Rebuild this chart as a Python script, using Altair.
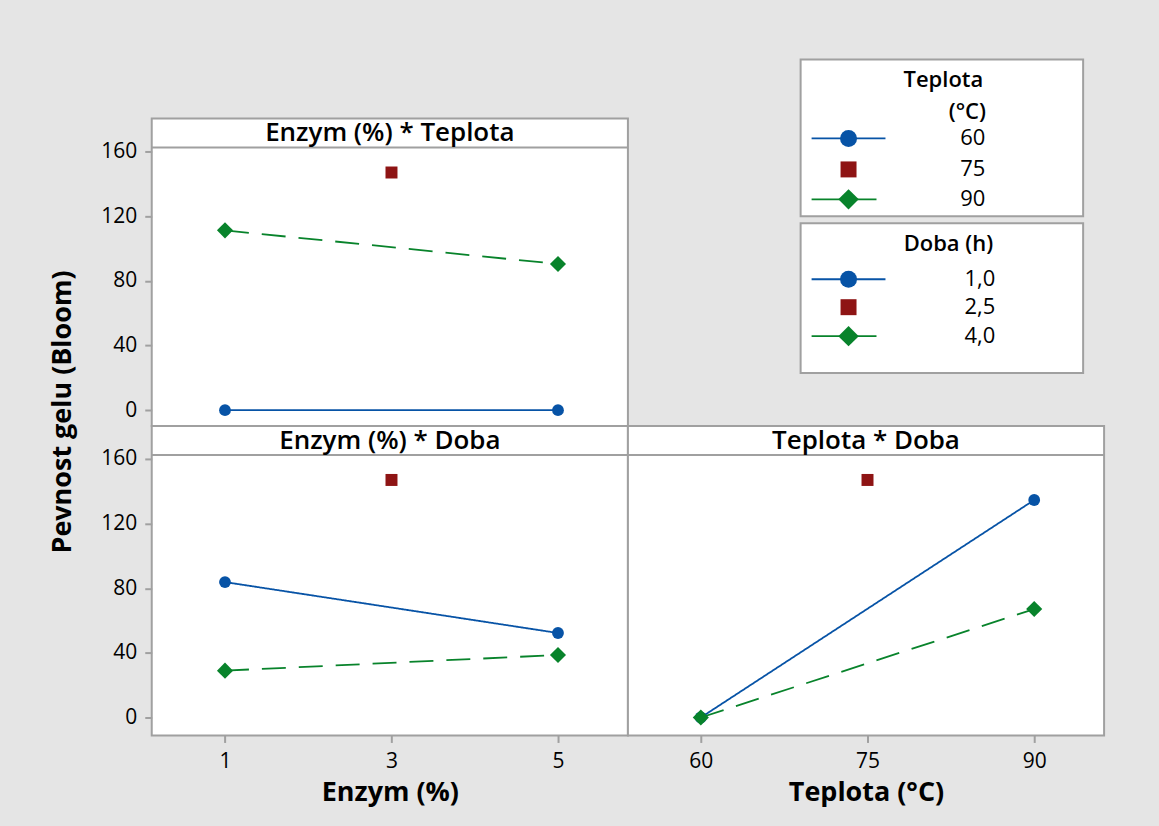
import altair as alt
import pandas as pd

# ---------------- data ----------------
enzym_levels = [1, 3, 5]
teplota_levels = [60, 75, 90]
teplota_labels = ["60", "75", "90"]
doba_labels = ["1,0", "2,5", "4,0"]

# Enzym (%) * Teplota  (series = Teplota)
et_60 = [0.0, 0.0]        # at Enzym 1, 5
et_75 = [147.0]           # at Enzym 3
et_90 = [111.2, 90.4]     # at Enzym 1, 5
# Enzym (%) * Doba  (series = Doba)
ed_10 = [83.8, 52.3]
ed_25 = [147.0]
ed_40 = [29.0, 38.7]
# Teplota * Doba  (series = Doba)
td_10 = [0.0, 134.6]      # at Teplota 60, 90
td_25 = [147.0]           # at Teplota 75
td_40 = [0.0, 67.1]

LEVELS = ["L1", "L2", "L3"]
BLUE, RED, GREEN = "#0753a6", "#8e1414", "#08832b"
FRAME = "#a0a0a0"
FONT = "Open Sans"
SHAPES = ["circle", "square", "diamond"]
PLOT_SIZES = [140, 144, 260]
LEG_SIZES = [290, 256, 420]


def rows(xs, ys, level):
    return [{"x": a, "y": b, "level": level} for a, b in zip(xs, ys)]


ends_e = [enzym_levels[0], enzym_levels[-1]]
mid_e = [enzym_levels[1]]
ends_t = [teplota_levels[0], teplota_levels[-1]]
mid_t = [teplota_levels[1]]

df_et = pd.DataFrame(rows(ends_e, et_60, "L1") + rows(mid_e, et_75, "L2") + rows(ends_e, et_90, "L3"))
df_ed = pd.DataFrame(rows(ends_e, ed_10, "L1") + rows(mid_e, ed_25, "L2") + rows(ends_e, ed_40, "L3"))
df_td = pd.DataFrame(rows(ends_t, td_10, "L1") + rows(mid_t, td_25, "L2") + rows(ends_t, td_40, "L3"))

# ---------------- layout constants ----------------
PW = 477
H_TOP = 308
H_BOT = 310
STRIP = 29

color = alt.Color("level:N", scale=alt.Scale(domain=LEVELS, range=[BLUE, RED, GREEN]), legend=None)
dash = alt.StrokeDash("level:N", scale=alt.Scale(domain=LEVELS, range=[[1, 0], [1, 0], [24, 13]]), legend=None)


def point_layers(data, x, y, sizes):
    out = []
    for lev, shp, sz in zip(LEVELS, SHAPES, sizes):
        out.append(alt.Chart(data).transform_filter(alt.datum.level == lev).mark_point(
            shape=shp, size=sz, filled=True, opacity=1).encode(x=x, y=y, color=color))
    return out


def panel(df, xdom, xvals, ydom, height, strip_title, xtitle=None, show_yaxis=True, extra=None):
    if xtitle is None:
        xenc = alt.X("x:Q", scale=alt.Scale(domain=xdom, nice=False, zero=False), axis=None)
    else:
        xenc = alt.X("x:Q", scale=alt.Scale(domain=xdom, nice=False, zero=False),
                     axis=alt.Axis(values=xvals, title=xtitle, format="d"))
    if show_yaxis:
        yenc = alt.Y("y:Q", scale=alt.Scale(domain=ydom, nice=False, zero=False),
                     axis=alt.Axis(values=[0, 40, 80, 120, 160], title=None))
    else:
        yenc = alt.Y("y:Q", scale=alt.Scale(domain=ydom, nice=False, zero=False), axis=None)
    lines = alt.Chart(df).mark_line(strokeWidth=1.8).encode(
        x=xenc, y=yenc, color=color, strokeDash=dash, detail="level:N")
    one = pd.DataFrame({"t": [strip_title]})
    rule = alt.Chart(one).mark_rule(color=FRAME, strokeWidth=2).encode(
        x=alt.value(0), x2=alt.value(PW), y=alt.value(STRIP))
    txt = alt.Chart(one).mark_text(font=FONT, fontSize=26, fontWeight=600, color="black",
                                   align="center", baseline="middle").encode(
        text="t:N", x=alt.value(PW / 2), y=alt.value(STRIP / 2 + 0.5))
    layers = [lines] + point_layers(df, xenc, yenc, PLOT_SIZES) + [rule, txt]
    if extra is not None:
        layers.append(extra)
    return alt.layer(*layers).properties(width=PW, height=height)


ydom_top = [-9.8, 180.4]
ydom_bot = [-11.1, 180.4]

tl = panel(df_et, [0.12, 5.84], enzym_levels, ydom_top, H_TOP, "Enzym (%) * Teplota")

ytitle = alt.Chart(pd.DataFrame({"t": ["Pevnost gelu (Bloom)"]})).mark_text(
    font=FONT, fontSize=27, fontWeight="bold", color="black", angle=270,
    align="center", baseline="middle").encode(text="t:N", x=alt.value(-89), y=alt.value(-14))

bl = panel(df_ed, [0.12, 5.84], enzym_levels, ydom_bot, H_BOT, "Enzym (%) * Doba",
           xtitle="Enzym (%)", extra=ytitle)
br = panel(df_td, [53.44, 96.29], teplota_levels, ydom_bot, H_BOT, "Teplota * Doba",
           xtitle="Teplota (°C)", show_yaxis=False)

# ---------------- legend (drawn as its own chart) ----------------
BOX_X0, BOX_X1 = 173, 456
boxes = pd.DataFrame({"x0": [BOX_X0, BOX_X0], "x1": [BOX_X1, BOX_X1], "y0": [-59, 105], "y1": [98, 255]})
item_y = {0: [20, 51, 81], 1: [161, 189, 218]}
label_x = {0: 358, 1: 368}
group_labels = {0: teplota_labels, 1: doba_labels}
MK_X = 221
items = []
for g in (0, 1):
    for i, lev in enumerate(LEVELS):
        items.append({"py": item_y[g][i], "px": MK_X, "lx": label_x[g],
                      "label": group_labels[g][i], "level": lev,
                      "x0": 184, "x1": 258 if i == 0 else 249})
items = pd.DataFrame(items)
seg = items[items["level"] != "L2"]
titles = pd.DataFrame({"t": ["Teplota", "(°C)", "Doba (h)"], "px": [316, 340, 321], "py": [-39, -7, 126]})

px_enc = alt.X("px:Q", scale=None, axis=None)
py_enc = alt.Y("py:Q", scale=None, axis=None)

leg_boxes = alt.Chart(boxes).mark_rect(fill="white", stroke=FRAME, strokeWidth=2).encode(
    x=alt.X("x0:Q", scale=None, axis=None), x2="x1:Q",
    y=alt.Y("y0:Q", scale=None, axis=None), y2="y1:Q")
leg_lines = alt.Chart(seg).mark_rule(strokeWidth=1.8).encode(
    x=alt.X("x0:Q", scale=None, axis=None), x2="x1:Q", y=py_enc, color=color)
leg_pts = point_layers(items, px_enc, py_enc, LEG_SIZES)
leg_labels = alt.Chart(items).mark_text(font=FONT, fontSize=22, fontWeight=500, color="black",
                                        align="right", baseline="middle").encode(
    x=alt.X("lx:Q", scale=None, axis=None), y=py_enc, text="label:N")
leg_titles = alt.Chart(titles).mark_text(font=FONT, fontSize=22, fontWeight=600, color="black",
                                         align="center", baseline="middle").encode(
    x=px_enc, y=py_enc, text="t:N")

leg = alt.layer(leg_boxes, leg_lines, *leg_pts, leg_labels, leg_titles).properties(
    width=PW, height=H_TOP, view=alt.ViewBackground(fill="transparent", stroke="transparent"))

chart = alt.concat(tl, leg, bl, br, columns=2, spacing=0, align="each", bounds="flush").resolve_scale(
    x="independent", y="independent"
).properties(
    background="#e5e5e5",
    padding={"left": 47, "top": 57, "right": 53, "bottom": 20},
).configure_view(
    fill="white", stroke=FRAME, strokeWidth=2
).configure_axis(
    labelFont=FONT, labelFontSize=21, labelColor="black",
    tickColor=FRAME, tickWidth=2, tickSize=7, domain=False, grid=False,
    labelPadding=8, titleFont=FONT, titleFontSize=27, titleFontWeight="bold",
    titleColor="black", titlePadding=8
)

chart.save("out.html", embed_options={"renderer": "svg", "actions": False})
